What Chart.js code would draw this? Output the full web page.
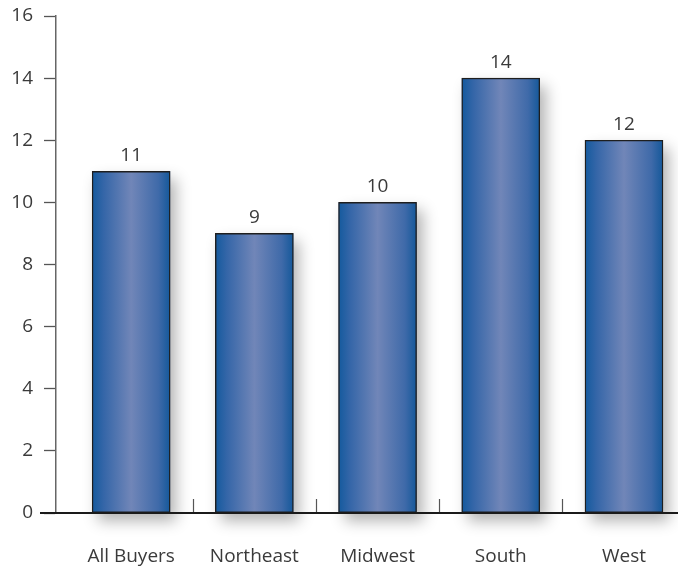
<!DOCTYPE html>
<html>
<head>
<meta charset="utf-8">
<script src="https://cdn.jsdelivr.net/npm/chart.js@4/dist/chart.umd.min.js"></script>
<style>
  html, body { margin: 0; padding: 0; background: #fff; }
  canvas { display: block; }
</style>
</head>
<body>
<canvas id="chart" width="678" height="569"></canvas>
<script>
// Regions and their values
const categories = ['All Buyers', 'Northeast', 'Midwest', 'South', 'West'];
const values = [11, 9, 10, 14, 12];
const yTicks = [0, 2, 4, 6, 8, 10, 12, 14, 16];

const TEXT = '#3a3a3a';
const FONT = '"Open Sans", "DejaVu Sans", sans-serif';
const BAR_W = 78;

// Horizontal shading for each bar: dark edges, pale centre
function barFill(ctx) {
  const chart = ctx.chart;
  const xs = chart.scales.x;
  if (!chart.chartArea || !xs || ctx.raw == null) return '#4a6fa8';
  const cx = xs.getPixelForValue(ctx.raw.x);
  const g = chart.ctx.createLinearGradient(cx - BAR_W / 2, 0, cx + BAR_W / 2, 0);
  g.addColorStop(0.0, '#145a9e');
  g.addColorStop(0.15, '#3566a8');
  g.addColorStop(0.5, '#7186b8');
  g.addColorStop(0.85, '#3f6aa9');
  g.addColorStop(1.0, '#14589a');
  return g;
}

// Soft drop shadow cast by each bar, painted before the bars themselves
const barShadow = {
  id: 'barShadow',
  beforeDatasetsDraw(chart) {
    const c = chart.ctx;
    const base = chart.scales.y.getPixelForValue(0);
    c.save();
    c.shadowColor = 'rgba(0,0,0,0.3)';
    c.shadowBlur = 14;
    c.shadowOffsetX = 6;
    c.shadowOffsetY = 8;
    c.fillStyle = '#3a64a4';
    chart.getDatasetMeta(0).data.forEach((bar) => {
      const { x, y, width } = bar.getProps(['x', 'y', 'width'], true);
      c.fillRect(x - width / 2, y, width, base - y);
    });
    c.restore();
  }
};

// Value above each bar, short separators between categories, baseline
const decorations = {
  id: 'decorations',
  afterDatasetsDraw(chart) {
    const c = chart.ctx;
    const xs = chart.scales.x;
    const ys = chart.scales.y;
    const base = ys.getPixelForValue(0);
    c.save();
    // category separators rising from the baseline
    c.strokeStyle = '#555';
    c.lineWidth = 1.2;
    for (let i = 0; i < categories.length - 1; i++) {
      const px = Math.round(xs.getPixelForValue(i + 0.5)) + 0.5;
      c.beginPath();
      c.moveTo(px, base - 14);
      c.lineTo(px, base);
      c.stroke();
    }
    // baseline
    c.strokeStyle = '#1a1a1a';
    c.lineWidth = 2;
    c.beginPath();
    c.moveTo(40, base);
    c.lineTo(chart.width, base);
    c.stroke();
    // value labels
    c.fillStyle = TEXT;
    c.font = '19px ' + FONT;
    c.textAlign = 'center';
    c.textBaseline = 'alphabetic';
    chart.getDatasetMeta(0).data.forEach((bar, i) => {
      c.fillText(String(values[i]), bar.x, bar.y - 10);
    });
    c.restore();
  }
};

const firstCentre = 131.5, step = 123.8, left = 56, right = 678;

new Chart(document.getElementById('chart'), {
  type: 'bar',
  data: {
    datasets: [{
      data: values.map((v, i) => ({ x: i, y: v })),
      backgroundColor: barFill,
      borderColor: '#1e1e1e',
      borderWidth: 1.4,
      borderSkipped: false,
      barThickness: BAR_W
    }]
  },
  options: {
    responsive: false,
    animation: false,
    devicePixelRatio: 1,
    layout: { padding: { top: 16, left: 0, right: 0, bottom: 0 } },
    plugins: { legend: { display: false }, tooltip: { enabled: false } },
    scales: {
      x: {
        type: 'linear',
        offset: false,
        min: (left - firstCentre) / step,
        max: (right - firstCentre) / step,
        afterBuildTicks(scale) {
          scale.ticks = categories.map((_, i) => ({ value: i }));
        },
        afterFit(scale) { scale.height = 56; },
        grid: { display: true, drawOnChartArea: false, drawTicks: false },
        border: { display: false },
        ticks: {
          autoSkip: false,
          maxRotation: 0,
          padding: 32,
          color: TEXT,
          font: { family: FONT, size: 19 },
          callback: (v) => categories[v] ?? ''
        }
      },
      y: {
        min: 0,
        max: 16,
        afterBuildTicks(scale) {
          scale.ticks = yTicks.map(v => ({ value: v }));
        },
        afterFit(scale) {
          scale.width = left;
          scale.paddingTop = 12;
          scale.paddingBottom = 12;
        },
        grid: {
          drawOnChartArea: false,
          drawTicks: true,
          tickLength: 12,
          tickColor: '#555',
          tickWidth: 1.3
        },
        border: { display: true, color: '#666', width: 1.5 },
        ticks: {
          padding: 11,
          color: TEXT,
          font: { family: FONT, size: 19 }
        }
      }
    }
  },
  plugins: [barShadow, decorations]
});
</script>
</body>
</html>
